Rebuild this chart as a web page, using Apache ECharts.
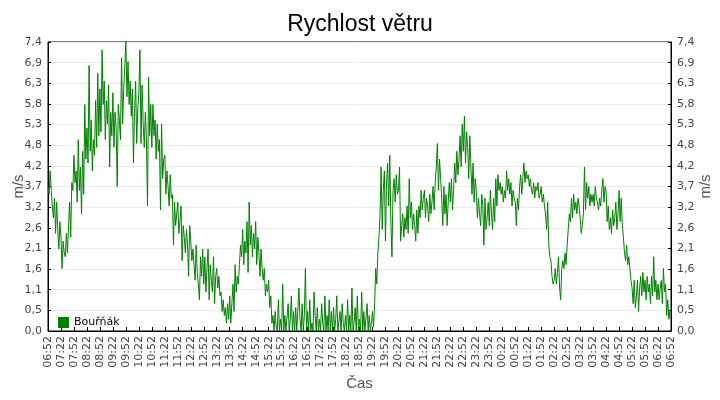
<!DOCTYPE html>
<html>
<head>
<meta charset="utf-8">
<script src="https://cdn.jsdelivr.net/npm/echarts@6/dist/echarts.min.js"></script>
<style>html,body{margin:0;padding:0;background:#fff}#c{width:720px;height:400px}</style>
</head>
<body>
<div id="c"></div>
<script>
const chartTitle = 'Rychlost větru';
const seriesName = 'Bouřňák';
const xLabels = ['06:52','07:22','07:52','08:22','08:52','09:22','09:52','10:22','10:52','11:22','11:52','12:22','12:52','13:22','13:52','14:22','14:52','15:22','15:52','16:22','16:52','17:22','17:52','18:22','18:52','19:22','19:52','20:22','20:52','21:22','21:52','22:22','22:52','23:22','23:52','00:22','00:52','01:22','01:52','02:22','02:52','03:22','03:52','04:22','04:52','05:22','05:52','06:22','06:52'];
const yLabels = ['0,0','0,5','1,1','1,6','2,1','2,6','3,2','3,7','4,2','4,8','5,3','5,8','6,3','6,9','7,4'];
const sampleMinutes = 2.5;
// wind speed (m/s), one value every 2.5 minutes from 06:52 (12 values per half hour)
const speed = [
3.7,3.5,4.1,3.6,3.2,2.9,3.4,2.5,3.3,2.6,2.1,2.8,
2.4,1.6,2.3,2.0,1.9,2.5,2.0,2.7,3.3,2.4,3.8,3.6,
4.5,3.8,4.1,3.3,4.9,3.6,4.2,3.0,4.6,3.5,5.8,4.4,
5.2,4.3,6.8,4.6,5.4,4.1,4.9,4.5,5.9,4.7,6.6,5.0,
6.2,5.1,7.2,5.8,6.4,4.9,5.9,5.3,6.3,4.2,5.6,5.0,
6.1,4.7,5.6,5.2,3.7,5.8,5.4,4.9,7.0,5.3,6.2,6.8,
7.4,6.0,6.9,5.8,6.4,5.5,6.2,4.3,5.6,6.4,4.8,5.7,
6.1,7.2,4.8,6.3,5.3,4.7,5.6,4.9,3.2,6.5,5.0,5.8,
4.7,5.8,5.0,5.4,4.4,5.3,4.6,4.9,3.1,5.3,3.9,4.4,
4.5,3.5,4.1,3.7,3.2,4.0,3.4,3.5,2.2,3.3,2.7,3.0,
3.3,2.5,2.8,3.2,1.8,2.7,2.4,2.0,2.6,2.2,1.4,2.7,
2.3,1.8,2.1,1.7,1.3,2.2,1.5,1.2,0.8,1.9,1.4,2.1,
1.2,1.9,1.0,1.6,2.1,0.8,1.7,1.3,1.0,1.9,0.7,1.4,
1.6,1.1,1.4,0.9,1.0,0.5,0.8,0.4,0.6,0.2,0.7,0.3,
0.9,0.2,0.7,1.2,0.5,1.7,1.0,1.4,1.2,1.7,2.2,1.9,
2.6,1.7,2.3,2.0,2.8,1.5,3.3,2.2,2.7,1.9,2.5,2.1,
2.8,1.7,2.4,2.0,1.4,2.1,1.6,1.3,1.6,0.9,1.2,1.0,
1.3,0.6,0.9,0.2,0.4,0.0,0.5,0.1,0.0,0.8,0.0,0.3,
0.0,1.2,0.0,0.4,0.0,0.0,0.7,0.0,0.3,0.9,0.0,0.5,
0.0,0.6,0.0,0.0,1.1,0.3,0.0,0.7,0.0,0.4,1.6,0.0,
0.5,0.0,0.8,0.0,0.2,0.0,1.0,0.4,0.0,0.6,0.0,0.3,
0.0,0.7,0.2,0.0,0.9,0.0,0.4,0.0,0.8,0.0,0.5,0.0,
0.6,0.0,0.3,0.9,0.0,0.0,0.5,0.0,0.7,0.2,0.0,0.4,
0.0,0.8,0.0,0.4,0.0,1.1,0.0,0.2,0.6,0.0,0.9,0.0,
0.3,0.0,1.0,0.0,0.5,0.0,0.0,0.7,0.0,0.4,0.0,0.2,
0.5,0.1,0.7,1.6,1.2,2.0,2.4,3.0,4.2,2.6,3.6,4.1,
2.3,3.8,4.3,3.2,4.5,2.8,1.9,3.6,3.9,3.3,4.0,3.5,
3.6,4.2,2.3,2.7,3.0,2.4,2.9,2.6,3.2,2.5,3.9,2.9,
3.3,2.6,3.0,2.7,2.3,3.1,2.5,3.2,2.9,3.6,3.1,3.4,
3.6,2.9,3.4,3.2,2.8,3.5,3.0,3.3,3.7,3.1,3.8,4.2,
4.8,3.6,4.4,3.9,3.4,2.7,3.7,3.0,3.5,2.7,3.3,3.8,
3.3,3.9,3.1,3.6,4.3,3.8,4.6,4.0,4.4,5.0,4.2,5.3,
4.6,5.5,4.3,5.1,4.7,3.9,5.0,4.2,3.5,4.3,3.3,3.9,
3.6,2.9,3.4,3.0,2.7,3.5,3.2,2.2,3.4,2.6,2.9,3.3,
2.7,3.6,3.0,2.6,3.4,2.8,3.9,3.2,4.0,3.6,3.8,3.5,
3.7,3.3,3.6,3.4,4.1,3.6,3.9,3.5,3.8,3.2,3.6,3.4,
3.3,2.7,3.4,3.1,3.7,4.0,3.5,3.9,4.3,3.8,4.1,3.9,
4.0,3.7,3.9,3.6,3.5,3.8,3.4,3.7,3.6,3.8,3.4,3.5,
3.7,3.3,3.5,3.2,3.0,2.6,3.3,2.2,1.9,1.8,1.4,1.2,
1.3,1.6,1.2,1.5,1.9,1.1,0.8,1.6,1.8,1.6,2.0,1.7,
2.2,2.6,3.0,2.8,3.4,2.9,3.5,3.1,3.3,3.0,3.4,3.2,
2.9,2.5,2.7,3.0,4.2,3.1,3.8,3.4,3.7,3.2,3.5,3.3,
3.5,3.2,3.7,3.4,3.3,3.1,3.4,3.2,3.6,3.9,3.3,3.7,
3.6,2.8,3.2,2.6,2.9,2.5,3.1,2.7,2.9,3.3,2.6,3.0,
3.6,2.8,3.4,2.7,2.4,2.0,1.8,2.2,1.7,1.9,1.6,1.3,
1.1,0.7,1.3,0.6,0.9,1.3,0.5,1.1,1.4,0.9,1.5,1.0,
1.3,0.8,1.4,1.0,1.2,0.7,1.4,0.9,1.9,1.0,1.3,0.8,
1.2,0.8,1.1,1.3,0.7,1.6,1.0,1.2,0.4,0.8,0.3,0.5,
0.5
];

const yMax = 7.4;
const yStep = yMax / (yLabels.length - 1);
const xMax = (xLabels.length - 1) * 30;
const points = speed.map((v, i) => [i * sampleMinutes, v]);

const labelColor = '#444';
const yAxisCommon = {
  type: 'value', min: 0, max: yMax, interval: yStep,
  name: 'm/s', nameLocation: 'middle', nameMoveOverlap: false,
  nameTextStyle: { color: '#555', fontSize: 15, fontFamily: 'Liberation Sans' },
  axisLine: { show: true, lineStyle: { color: '#000' } },
  axisTick: { show: true, inside: true, length: 3, lineStyle: { color: '#000' } },
  axisLabel: { color: labelColor, fontSize: 11, fontFamily: 'DejaVu Sans', margin: 6,
    formatter: v => yLabels[Math.round(v / yStep)] },
  splitLine: { show: true, lineStyle: { color: '#ebebeb', width: 1 } }
};

const chart = echarts.init(document.getElementById('c'), null, { renderer: 'canvas' });
chart.setOption({
  animation: false,
  backgroundColor: '#fff',
  title: { text: chartTitle, left: 'center', top: 8,
    textStyle: { fontFamily: 'Liberation Sans', fontSize: 23, fontWeight: 'normal', color: '#000' } },
  legend: { data: [seriesName], left: 53, top: 312, icon: 'rect', itemWidth: 11, itemHeight: 11, itemGap: 6,
    textStyle: { fontFamily: 'DejaVu Sans', fontSize: 11, color: '#000' } },
  grid: { left: 48, right: 49, top: 42, bottom: 69, show: true, borderColor: '#000', borderWidth: 1,
    containLabel: false, outerBoundsMode: 'none' },
  xAxis: {
    type: 'value', min: 0, max: xMax, interval: 30,
    name: 'Čas', nameLocation: 'middle', nameGap: 45, nameMoveOverlap: false,
    nameTextStyle: { color: '#555', fontSize: 15, fontFamily: 'Liberation Sans' },
    axisLine: { show: true, onZero: false, lineStyle: { color: '#000' } },
    axisTick: { show: true, inside: true, length: 4, lineStyle: { color: '#000' } },
    axisLabel: { color: labelColor, fontSize: 11, fontFamily: 'DejaVu Sans', rotate: 90, margin: 5,
      formatter: v => xLabels[Math.round(v / 30)] },
    splitLine: { show: false }
  },
  yAxis: [
    Object.assign({}, yAxisCommon, { position: 'left', nameGap: 22 }),
    Object.assign({}, yAxisCommon, { position: 'right', nameGap: 27 })
  ],
  series: [{
    name: seriesName, type: 'line', data: points, yAxisIndex: 0,
    showSymbol: false, symbol: 'none',
    lineStyle: { color: '#008000', width: 1 }, itemStyle: { color: '#008000' }
  }]
});
</script>
</body>
</html>
